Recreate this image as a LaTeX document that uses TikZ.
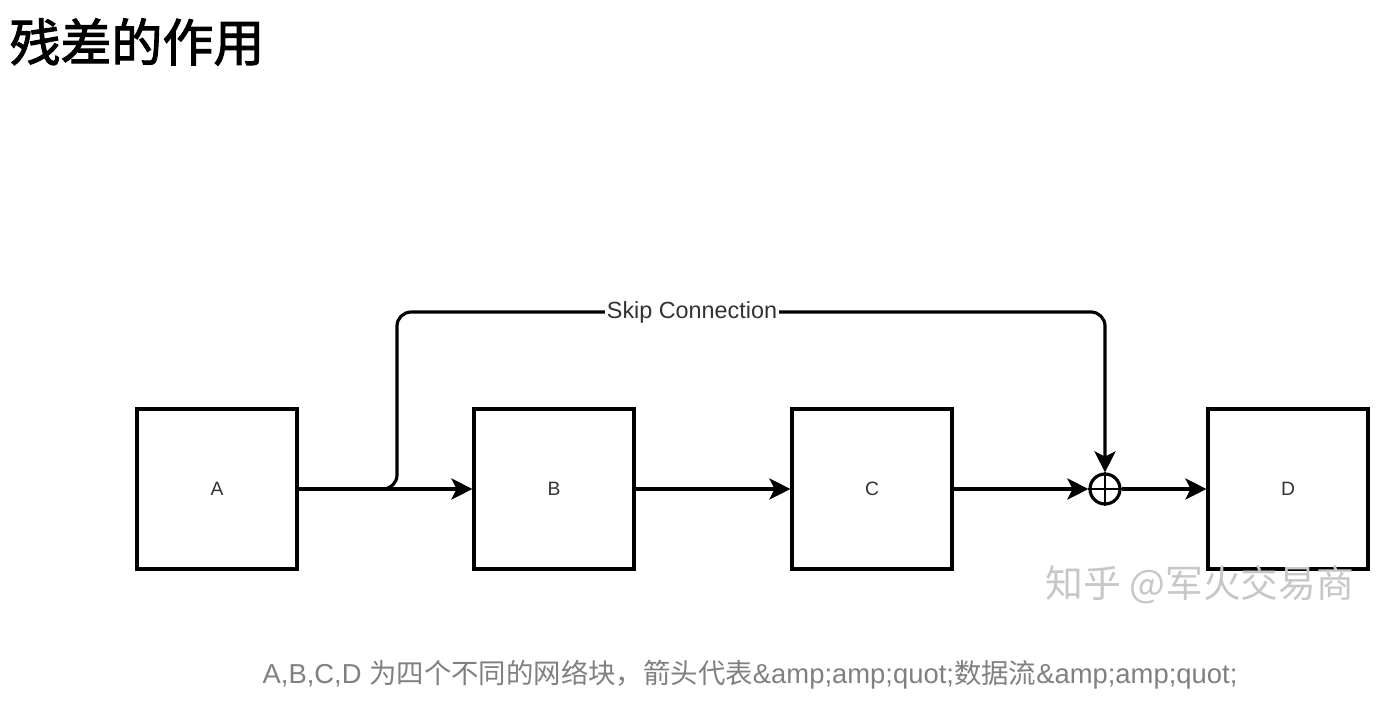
\documentclass[tikz,border=0pt]{standalone}
\usepackage{fontspec}
\setmainfont{Liberation Sans}
\newfontfamily\cjk{Noto Sans CJK SC}
\newfontfamily\cjktitle[FakeBold=2]{Noto Sans CJK SC}
\usetikzlibrary{arrows.meta}

\begin{document}
\begin{tikzpicture}[>={Stealth[length=12pt,width=12pt,inset=3pt]}, x=0.02cm, y=-0.02cm, line width=1.8pt,
    block/.style={draw, minimum size=3.2cm, text=black!80, font=\fontsize{11}{13}\selectfont}]
    \useasboundingbox (0,0) rectangle (1387,704);

    \node[anchor=west, inner sep=0pt, font=\cjktitle\fontsize{29}{32}\selectfont] (title) at (8,42) {残差的作用};

    \node[block] (A) at (217,489) {A};
    \node[block] (B) at (554,489) {B};
    \node[block] (C) at (872,489) {C};
    \node[block] (D) at (1288,489) {D};
    \node[draw, circle, minimum size=0.6cm, inner sep=0pt] (S) at (1105,489) {};
    \draw[line width=1.3pt] (S.north) -- (S.south) (S.west) -- (S.east);

    \draw[->] (A) -- (B);
    \draw[->] (B) -- (C);
    \draw[->] (C) -- (S);
    \draw[->] (S) -- (D);
    \draw[->, rounded corners=8pt] (A.east) -| (397,312) -| (S.north);
    \node[fill=white, inner sep=1pt, text=black!80, font=\fontsize{13.3}{15}\selectfont] (skip) at (692,312) {Skip Connection};

    \node[text=black!22, font=\cjk\fontsize{21.5}{24}\selectfont] (mark) at (1200,585) {知乎 @军火交易商};
    \node[text=black!50, font=\fontsize{15.6}{18}\selectfont] (note) at (750,675) {A,B,C,D {\cjk 为四个不同的网络块，箭头代表}\&amp;amp;quot;{\cjk 数据流}\&amp;amp;quot;};
\end{tikzpicture}
\end{document}
